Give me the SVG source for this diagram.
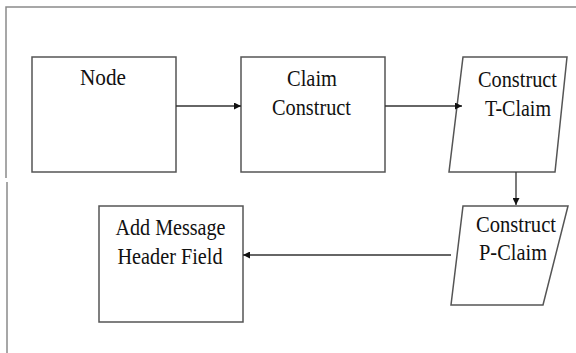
<svg xmlns="http://www.w3.org/2000/svg" width="576" height="353" viewBox="0 0 576 353">
  <style>
    .frame { fill: none; stroke: #8a8a8a; stroke-width: 1.5; }
    .box { fill: #ffffff; stroke: #555555; stroke-width: 1.5; }
    .edge { fill: none; stroke: #333333; stroke-width: 1.3; marker-end: url(#arrow); }
    text { font-family: "Liberation Serif", "Times New Roman", serif; font-size: 24px; fill: #111111; text-anchor: middle; }
  </style>
  <defs>
    <marker id="arrow" viewBox="0 0 10 10" refX="10" refY="5" markerWidth="7" markerHeight="7" markerUnits="userSpaceOnUse" orient="auto">
      <path d="M0,0 L10,5 L0,10 z" fill="#111111"/>
    </marker>
  </defs>
  <rect width="576" height="353" fill="#ffffff"/>

  <!-- surrounding frame -->
  <g id="frame">
    <path class="frame" d="M6,178 V7 H576"/>
    <path class="frame" d="M7,182 V353"/>
  </g>

  <g id="node">
    <rect class="box" x="32" y="57" width="144" height="115"/>
    <text x="103" y="85" textLength="46" lengthAdjust="spacingAndGlyphs">Node</text>
  </g>

  <g id="claim-construct">
    <rect class="box" x="241" y="57" width="144" height="115"/>
    <text x="312" y="86" textLength="50" lengthAdjust="spacingAndGlyphs">Claim</text>
    <text x="311.5" y="115" textLength="79" lengthAdjust="spacingAndGlyphs">Construct</text>
  </g>

  <g id="construct-t-claim">
    <polygon class="box" points="463,57 567,57 555,172 449,172"/>
    <text x="517.5" y="87" textLength="79" lengthAdjust="spacingAndGlyphs">Construct</text>
    <text x="518" y="116" textLength="66" lengthAdjust="spacingAndGlyphs">T-Claim</text>
  </g>

  <g id="construct-p-claim">
    <polygon class="box" points="463,206 568,206 543,305 451,305"/>
    <text x="516" y="232" textLength="80" lengthAdjust="spacingAndGlyphs">Construct</text>
    <text x="513" y="260" textLength="68" lengthAdjust="spacingAndGlyphs">P-Claim</text>
  </g>

  <g id="add-message-header-field">
    <rect class="box" x="99" y="206" width="144" height="116"/>
    <text x="170.5" y="235" textLength="110" lengthAdjust="spacingAndGlyphs">Add Message</text>
    <text x="170" y="264" textLength="105" lengthAdjust="spacingAndGlyphs">Header Field</text>
  </g>

  <g id="connectors">
    <path class="edge" d="M176,106 H241"/>
    <path class="edge" d="M385,106 H462"/>
    <path class="edge" d="M516,172 V205"/>
    <path class="edge" d="M451,255 H243"/>
  </g>
</svg>
